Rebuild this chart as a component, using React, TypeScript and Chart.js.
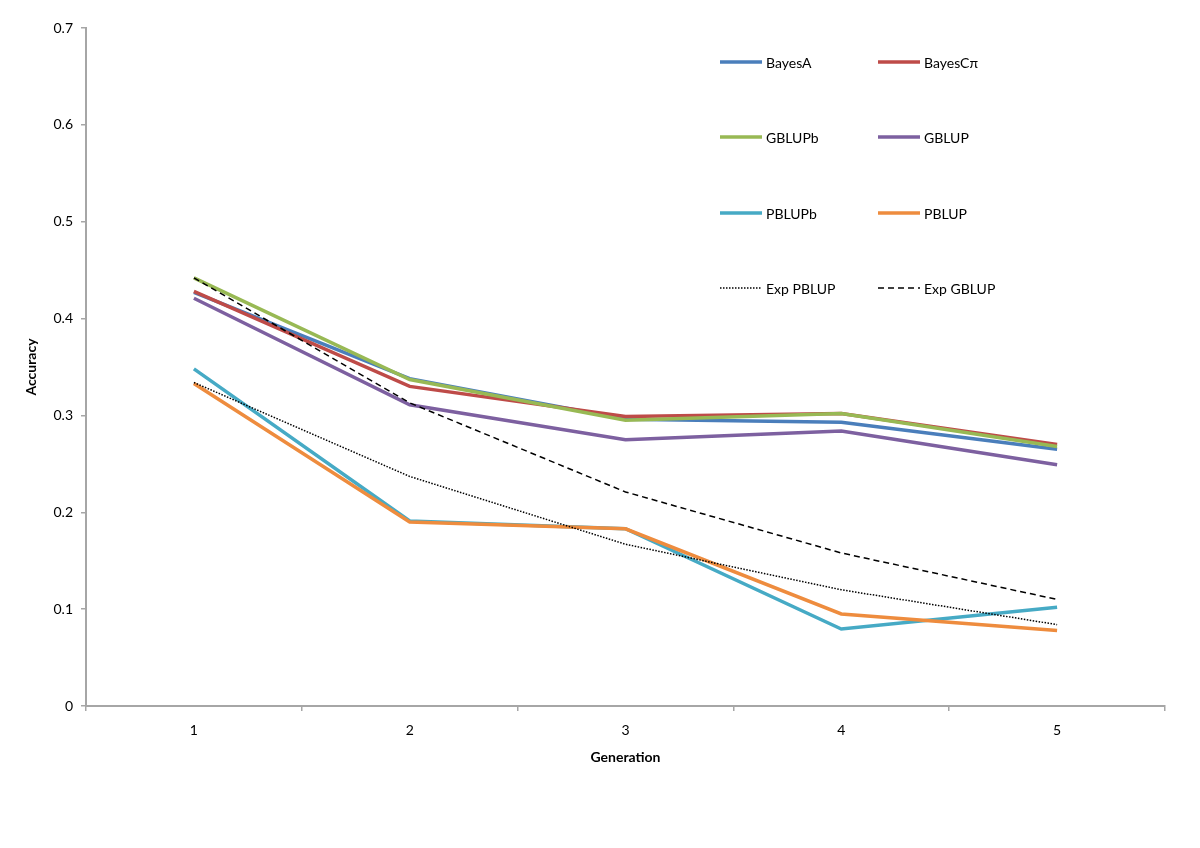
import React, { useEffect, useRef } from "react";
import { Chart, registerables } from "chart.js";

Chart.register(...registerables);

const generations = ["1", "2", "3", "4", "5"];
const bayesA = [0.427, 0.338, 0.296, 0.293, 0.265];
const bayesCpi = [0.428, 0.330, 0.299, 0.302, 0.270];
const gblupb = [0.442, 0.337, 0.295, 0.302, 0.268];
const gblup = [0.421, 0.311, 0.275, 0.284, 0.249];
const pblupb = [0.348, 0.191, 0.183, 0.0795, 0.102];
const pblup = [0.333, 0.190, 0.183, 0.095, 0.078];
const expPblup = [0.334, 0.237, 0.167, 0.120, 0.084];
const expGblup = [0.442, 0.313, 0.221, 0.158, 0.110];

const FONT = "Lato, 'Open Sans', sans-serif";
const AXIS_COLOR = "#a6a6a6";

type Series = { label: string; data: number[]; color: string; width: number; dash: number[] };

const series: Series[] = [
  { label: "BayesA", data: bayesA, color: "#4A7EBB", width: 3.5, dash: [] },
  { label: "BayesCπ", data: bayesCpi, color: "#BE4B48", width: 3.5, dash: [] },
  { label: "GBLUPb", data: gblupb, color: "#98B954", width: 3.5, dash: [] },
  { label: "GBLUP", data: gblup, color: "#7D60A0", width: 3.5, dash: [] },
  { label: "PBLUPb", data: pblupb, color: "#46AAC5", width: 3.5, dash: [] },
  { label: "PBLUP", data: pblup, color: "#EE8C3E", width: 3.5, dash: [] },
  { label: "Exp PBLUP", data: expPblup, color: "#000000", width: 1.5, dash: [1.5, 1.5] },
  { label: "Exp GBLUP", data: expGblup, color: "#000000", width: 1.5, dash: [6, 4] },
];

const legendPlugin = {
  id: "gridLegend",
  afterDraw(chart: any) {
    const ctx = chart.ctx;
    const area = chart.chartArea;
    const colX = [area.left + 634, area.left + 792];
    const rowY = [area.top + 34, area.top + 109, area.top + 185, area.top + 260];
    ctx.save();
    series.forEach((s, i) => {
      const x = colX[i % 2];
      const y = rowY[Math.floor(i / 2)];
      ctx.beginPath();
      ctx.strokeStyle = s.color;
      ctx.lineWidth = s.width;
      ctx.setLineDash(s.dash);
      ctx.lineCap = "butt";
      ctx.moveTo(x, y);
      ctx.lineTo(x + 42, y);
      ctx.stroke();
      ctx.setLineDash([]);
      ctx.fillStyle = "#000";
      ctx.font = `14px ${FONT}`;
      ctx.textBaseline = "middle";
      ctx.textAlign = "left";
      ctx.fillText(s.label, x + 46, y + 1);
    });
    ctx.restore();
  },
};

export default function App() {
  const ref = useRef<HTMLCanvasElement>(null);
  useEffect(() => {
    if (!ref.current) return;
    const chart = new Chart(ref.current, {
      type: "line",
      data: {
        labels: generations,
        datasets: series.map((s, i) => ({
          label: s.label,
          data: s.data,
          borderColor: s.color,
          backgroundColor: s.color,
          borderWidth: s.width,
          borderDash: s.dash,
          pointRadius: 0,
          tension: 0,
          fill: false,
          order: series.length - i,
        })),
      },
      options: {
        animation: false,
        responsive: false,
        layout: { padding: { left: 23, right: 35, top: 28, bottom: 82 } },
        plugins: { legend: { display: false }, tooltip: { enabled: false } },
        scales: {
          x: {
            type: "category",
            offset: true,
            grid: {
              offset: true,
              drawOnChartArea: false,
              drawTicks: true,
              tickLength: 5,
              color: AXIS_COLOR,
              lineWidth: 1.5,
            },
            border: { display: true, color: AXIS_COLOR, width: 2 },
            ticks: { color: "#000", font: { family: FONT, size: 14 }, padding: 11, maxRotation: 0 },
            title: {
              display: true,
              text: "Generation",
              color: "#000",
              font: { family: FONT, size: 14, weight: "bold" },
              padding: { top: 0, bottom: 0 },
            },
            afterFit: (s: any) => {
              s.height = 60;
            },
          },
          y: {
            min: 0,
            max: 0.7,
            ticks: {
              stepSize: 0.1,
              color: "#000",
              font: { family: FONT, size: 14 },
              padding: 8,
              callback: (v: any) => String(Math.round(Number(v) * 10) / 10),
            },
            grid: {
              drawOnChartArea: false,
              drawTicks: true,
              tickLength: 5,
              color: AXIS_COLOR,
              lineWidth: 1.5,
            },
            border: { display: true, color: AXIS_COLOR, width: 2 },
            title: {
              display: true,
              text: "Accuracy",
              color: "#000",
              font: { family: FONT, size: 14, weight: "bold" },
              padding: { top: 0, bottom: 0 },
            },
            afterFit: (s: any) => {
              s.width = 63;
            },
          },
        },
      },
      plugins: [legendPlugin],
    });
    return () => chart.destroy();
  }, []);
  return (
    <div style={{ position: "fixed", left: 0, top: 0, width: 1200, height: 848, background: "#fff" }}>
      <canvas ref={ref} width={1200} height={848} />
    </div>
  );
}
